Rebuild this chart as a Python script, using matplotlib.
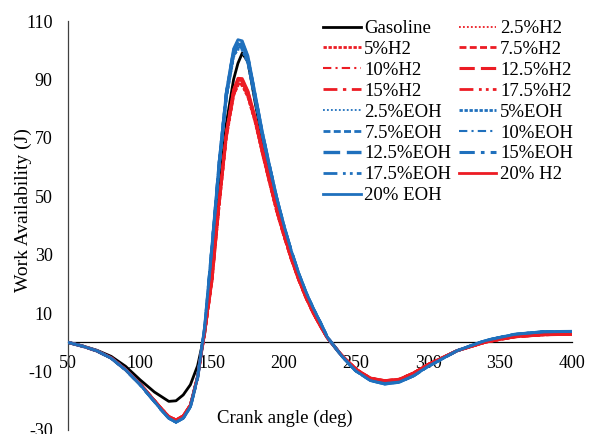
import matplotlib
matplotlib.use("Agg")
import matplotlib.pyplot as plt

plt.rcParams["font.family"] = ["Liberation Serif", "DejaVu Serif"]
plt.rcParams["axes.unicode_minus"] = False

# Crank angle grid (deg)
crank_angle = [50, 60, 70, 80, 90, 100, 110, 115, 120, 125, 130, 135, 140,
               145, 150, 155, 160, 165, 168, 171, 175, 180, 185, 190, 195,
               200, 205, 210, 215, 220, 225, 230, 240, 250, 260, 270, 280,
               290, 300, 320, 340, 360, 380, 400]

gasoline = [0, -1.2, -2.7, -4.8, -8.2, -12.8, -17.0, -18.6, -20.2, -20.0, -18.0, -14.5, -8.0,
            3.2, 24.0, 51.5, 75.0, 90.0, 95.5, 99.0, 96.0, 82.0, 69.0, 58.0, 47.5,
            38.5, 30.2, 23.0, 16.7, 11.2, 6.4, 1.7, -4.5, -9.5, -12.6, -13.7, -13.1,
            -11.0, -7.9, -2.9, 0.3, 2.3, 3.1, 3.2]

h2_2_5 = [0, -1.3, -2.9, -5.3, -9.3, -14.2, -19.9, -22.8, -25.4, -26.6, -25.2, -21.5, -11.8,
          3.5, 21.0, 47.0, 70.0, 84.1, 87.8, 87.7, 83.6, 75.0, 64.4, 54.3, 44.5,
          36.2, 28.4, 21.5, 15.4, 10.2, 5.8, 1.6, -4.4, -9.2, -12.5, -13.4, -12.9,
          -10.5, -7.6, -2.9, 0.1, 1.9, 2.6, 2.8]
h2_5 = [0, -1.3, -2.9, -5.3, -9.3, -14.2, -19.9, -22.8, -25.4, -26.6, -25.2, -21.5, -11.8,
        3.6, 21.1, 47.2, 70.3, 84.4, 88.2, 88.1, 83.9, 75.3, 64.6, 54.5, 44.6,
        36.3, 28.5, 21.6, 15.5, 10.2, 5.8, 1.6, -4.4, -9.2, -12.5, -13.4, -12.9,
        -10.5, -7.6, -2.9, 0.1, 1.9, 2.6, 2.8]
h2_7_5 = [0, -1.3, -2.9, -5.3, -9.3, -14.2, -19.9, -22.8, -25.4, -26.6, -25.2, -21.5, -11.8,
          3.6, 21.3, 47.4, 70.6, 84.8, 88.5, 88.4, 84.3, 75.6, 64.9, 54.6, 44.8,
          36.4, 28.6, 21.6, 15.5, 10.3, 5.8, 1.6, -4.4, -9.2, -12.4, -13.3, -12.8,
          -10.5, -7.6, -2.9, 0.1, 1.9, 2.6, 2.8]
h2_10 = [0, -1.3, -2.9, -5.3, -9.3, -14.2, -19.9, -22.8, -25.4, -26.6, -25.2, -21.5, -11.8,
         3.7, 21.4, 47.6, 70.9, 85.1, 88.9, 88.8, 84.6, 75.9, 65.1, 54.8, 44.9,
         36.5, 28.7, 21.7, 15.6, 10.3, 5.8, 1.6, -4.4, -9.2, -12.4, -13.3, -12.8,
         -10.5, -7.6, -2.9, 0.1, 1.9, 2.6, 2.8]
h2_12_5 = [0, -1.3, -2.9, -5.3, -9.3, -14.2, -19.9, -22.8, -25.4, -26.6, -25.2, -21.5, -11.8,
           3.8, 21.6, 47.9, 71.1, 85.5, 89.3, 89.2, 85.0, 76.1, 65.3, 55.0, 45.1,
           36.7, 28.7, 21.8, 15.6, 10.4, 5.8, 1.6, -4.4, -9.2, -12.3, -13.2, -12.7,
           -10.5, -7.6, -2.9, 0.1, 1.9, 2.6, 2.8]
h2_15 = [0, -1.3, -2.9, -5.3, -9.3, -14.2, -19.9, -22.8, -25.4, -26.6, -25.2, -21.5, -11.8,
         3.9, 21.7, 48.1, 71.4, 85.8, 89.7, 89.6, 85.3, 76.4, 65.5, 55.2, 45.2,
         36.8, 28.8, 21.9, 15.7, 10.4, 5.8, 1.6, -4.4, -9.2, -12.3, -13.2, -12.7,
         -10.5, -7.6, -2.9, 0.1, 1.9, 2.6, 2.8]
h2_17_5 = [0, -1.3, -2.9, -5.3, -9.3, -14.2, -19.9, -22.8, -25.4, -26.6, -25.2, -21.5, -11.8,
           3.9, 21.9, 48.3, 71.7, 86.2, 90.0, 89.9, 85.7, 76.7, 65.8, 55.3, 45.4,
           36.9, 28.9, 21.9, 15.7, 10.5, 5.8, 1.6, -4.4, -9.2, -12.2, -13.1, -12.6,
           -10.5, -7.6, -2.9, 0.1, 1.9, 2.6, 2.8]
h2_20 = [0, -1.3, -2.9, -5.3, -9.3, -14.2, -19.9, -22.8, -25.4, -26.6, -25.2, -21.5, -11.8,
         4.0, 22.0, 48.5, 72.0, 86.5, 90.4, 90.3, 86.0, 77.0, 66.0, 55.5, 45.5,
         37.0, 29.0, 22.0, 15.8, 10.5, 5.8, 1.6, -4.4, -9.2, -12.2, -13.1, -12.6,
         -10.5, -7.6, -2.9, 0.1, 1.9, 2.6, 2.8]

eoh_2_5 = [0, -1.3, -2.9, -5.4, -9.4, -14.4, -20.2, -23.2, -25.9, -27.3, -25.9, -22.0, -12.0,
           4.5, 31.5, 60.0, 83.5, 97.5, 100.2, 99.8, 95.0, 82.5, 70.0, 59.0, 48.3,
           39.0, 30.7, 23.4, 17.0, 11.6, 7.0, 1.8, -4.6, -9.8, -12.7, -13.8, -13.3,
           -11.4, -8.2, -2.9, 0.6, 2.7, 3.6, 3.7]
eoh_5 = [0, -1.3, -2.9, -5.4, -9.4, -14.4, -20.2, -23.2, -25.9, -27.3, -25.9, -22.0, -12.0,
         4.6, 31.7, 60.3, 83.9, 97.9, 100.7, 100.3, 95.4, 82.9, 70.3, 59.2, 48.5,
         39.1, 30.8, 23.5, 17.1, 11.7, 7.0, 1.8, -4.6, -9.8, -12.8, -13.9, -13.4,
         -11.4, -8.2, -2.9, 0.6, 2.7, 3.6, 3.7]
eoh_7_5 = [0, -1.3, -2.9, -5.4, -9.4, -14.4, -20.2, -23.2, -25.9, -27.3, -25.9, -22.0, -12.0,
           4.8, 31.9, 60.6, 84.2, 98.4, 101.2, 100.8, 95.9, 83.2, 70.6, 59.4, 48.6,
           39.3, 30.9, 23.6, 17.1, 11.7, 7.0, 1.8, -4.6, -9.8, -12.8, -13.9, -13.4,
           -11.4, -8.2, -2.9, 0.6, 2.7, 3.6, 3.7]
eoh_10 = [0, -1.3, -2.9, -5.4, -9.4, -14.4, -20.2, -23.2, -25.9, -27.3, -25.9, -22.0, -12.0,
          4.9, 32.1, 60.9, 84.6, 98.8, 101.7, 101.3, 96.3, 83.6, 70.9, 59.6, 48.8,
          39.4, 31.0, 23.7, 17.2, 11.8, 7.0, 1.8, -4.6, -9.8, -12.9, -14.0, -13.5,
          -11.4, -8.2, -2.9, 0.6, 2.7, 3.6, 3.7]
eoh_12_5 = [0, -1.3, -2.9, -5.4, -9.4, -14.4, -20.2, -23.2, -25.9, -27.3, -25.9, -22.0, -12.0,
            5.1, 32.4, 61.1, 84.9, 99.2, 102.1, 101.7, 96.7, 83.9, 71.1, 59.9, 49.0,
            39.6, 31.2, 23.7, 17.3, 11.8, 7.0, 1.8, -4.6, -9.8, -12.9, -14.1, -13.5,
            -11.4, -8.2, -2.9, 0.6, 2.7, 3.6, 3.7]
eoh_15 = [0, -1.3, -2.9, -5.4, -9.4, -14.4, -20.2, -23.2, -25.9, -27.3, -25.9, -22.0, -12.0,
          5.2, 32.6, 61.4, 85.3, 99.6, 102.6, 102.2, 97.1, 84.3, 71.4, 60.1, 49.2,
          39.7, 31.3, 23.8, 17.4, 11.9, 7.0, 1.8, -4.6, -9.8, -13.0, -14.2, -13.6,
          -11.4, -8.2, -2.9, 0.6, 2.7, 3.6, 3.7]
eoh_17_5 = [0, -1.3, -2.9, -5.4, -9.4, -14.4, -20.2, -23.2, -25.9, -27.3, -25.9, -22.0, -12.0,
            5.4, 32.8, 61.7, 85.6, 100.1, 103.1, 102.7, 97.6, 84.6, 71.7, 60.3, 49.3,
            39.9, 31.4, 23.9, 17.4, 11.9, 7.0, 1.8, -4.6, -9.8, -13.0, -14.2, -13.6,
            -11.4, -8.2, -2.9, 0.6, 2.7, 3.6, 3.7]
eoh_20 = [0, -1.3, -2.9, -5.4, -9.4, -14.4, -20.2, -23.2, -25.9, -27.3, -25.9, -22.0, -12.0,
          5.5, 33.0, 62.0, 86.0, 100.5, 103.6, 103.2, 98.0, 85.0, 72.0, 60.5, 49.5,
          40.0, 31.5, 24.0, 17.5, 12.0, 7.0, 1.8, -4.6, -9.8, -13.1, -14.3, -13.7,
          -11.4, -8.2, -2.9, 0.6, 2.7, 3.6, 3.7]

x_ticks = [50, 100, 150, 200, 250, 300, 350, 400]
y_ticks = [-30, -10, 10, 30, 50, 70, 90, 110]

RED = "#ec1c24"
BLUE = "#1f70bd"

# (label, values, colour, line style, width) in legend order
series = [
    ("Gasoline", gasoline, "black", "-", 2.0),
    ("2.5%H2", h2_2_5, RED, (0, (1, 1.2)), 1.3),
    ("5%H2", h2_5, RED, (0, (1.2, 0.6)), 2.0),
    ("7.5%H2", h2_7_5, RED, (0, (2.5, 1.2)), 2.0),
    ("10%H2", h2_10, RED, (0, (4, 2, 1, 2)), 1.5),
    ("12.5%H2", h2_12_5, RED, (0, (5, 2)), 2.2),
    ("15%H2", h2_15, RED, (0, (5, 2, 1.2, 2)), 2.0),
    ("17.5%H2", h2_17_5, RED, (0, (5, 2, 1, 1.5, 1, 1.5)), 2.0),
    ("2.5%EOH", eoh_2_5, BLUE, (0, (1, 1.2)), 1.3),
    ("5%EOH", eoh_5, BLUE, (0, (1.2, 0.6)), 2.0),
    ("7.5%EOH", eoh_7_5, BLUE, (0, (2.5, 1.2)), 2.0),
    ("10%EOH", eoh_10, BLUE, (0, (4, 2, 1, 2)), 1.5),
    ("12.5%EOH", eoh_12_5, BLUE, (0, (5, 2)), 2.4),
    ("15%EOH", eoh_15, BLUE, (0, (5, 2, 1.2, 2)), 2.2),
    ("17.5%EOH", eoh_17_5, BLUE, (0, (5, 2, 1, 1.5, 1, 1.5)), 2.0),
    ("20% H2", h2_20, RED, "-", 2.0),
    ("20% EOH", eoh_20, BLUE, "-", 2.0),
]

fig = plt.figure(figsize=(5.93, 4.34), dpi=100)
ax = fig.add_axes([68 / 593, 4 / 434, 504 / 593, 409 / 434])

handles = []
for label, values, color, ls, lw in series:
    (ln,) = ax.plot(crank_angle, values, color=color, linestyle=ls,
                    linewidth=lw, label=label, zorder=3)
    handles.append(ln)

ax.set_xlim(50, 400)
ax.set_ylim(-30, 110)
ax.set_xticks(x_ticks)
ax.set_yticks(y_ticks)
ax.tick_params(axis="both", length=0, labelsize=13)
ax.tick_params(axis="y", pad=11)
ax.tick_params(axis="x", pad=9)

ax.spines["top"].set_visible(False)
ax.spines["right"].set_visible(False)
ax.spines["left"].set_color("#404040")
ax.spines["left"].set_linewidth(0.9)
ax.spines["bottom"].set_position(("data", 0))
ax.spines["bottom"].set_color("black")
ax.spines["bottom"].set_linewidth(0.9)

fig.text(23 / 593, 1 - 210 / 434, "Work Availability (J)", rotation=90,
         ha="center", va="center", fontsize=14)
fig.text(285 / 593, 1 - 418 / 434, "Crank angle (deg)",
         ha="center", va="center", fontsize=13.5)

# Row-wise legend: first column takes the even entries, second the odd ones
order = list(range(0, len(handles), 2)) + list(range(1, len(handles), 2))
leg = fig.legend([handles[i] for i in order], [series[i][0] for i in order],
                 ncol=2, loc="upper left",
                 bbox_to_anchor=(323 / 593, 1 - 20 / 434),
                 frameon=False, fontsize=13.5, handlelength=2.0,
                 handletextpad=0.2, columnspacing=0.4, labelspacing=0.2,
                 borderpad=0.0, borderaxespad=0.0)

fig.savefig("out.png", dpi=100)
